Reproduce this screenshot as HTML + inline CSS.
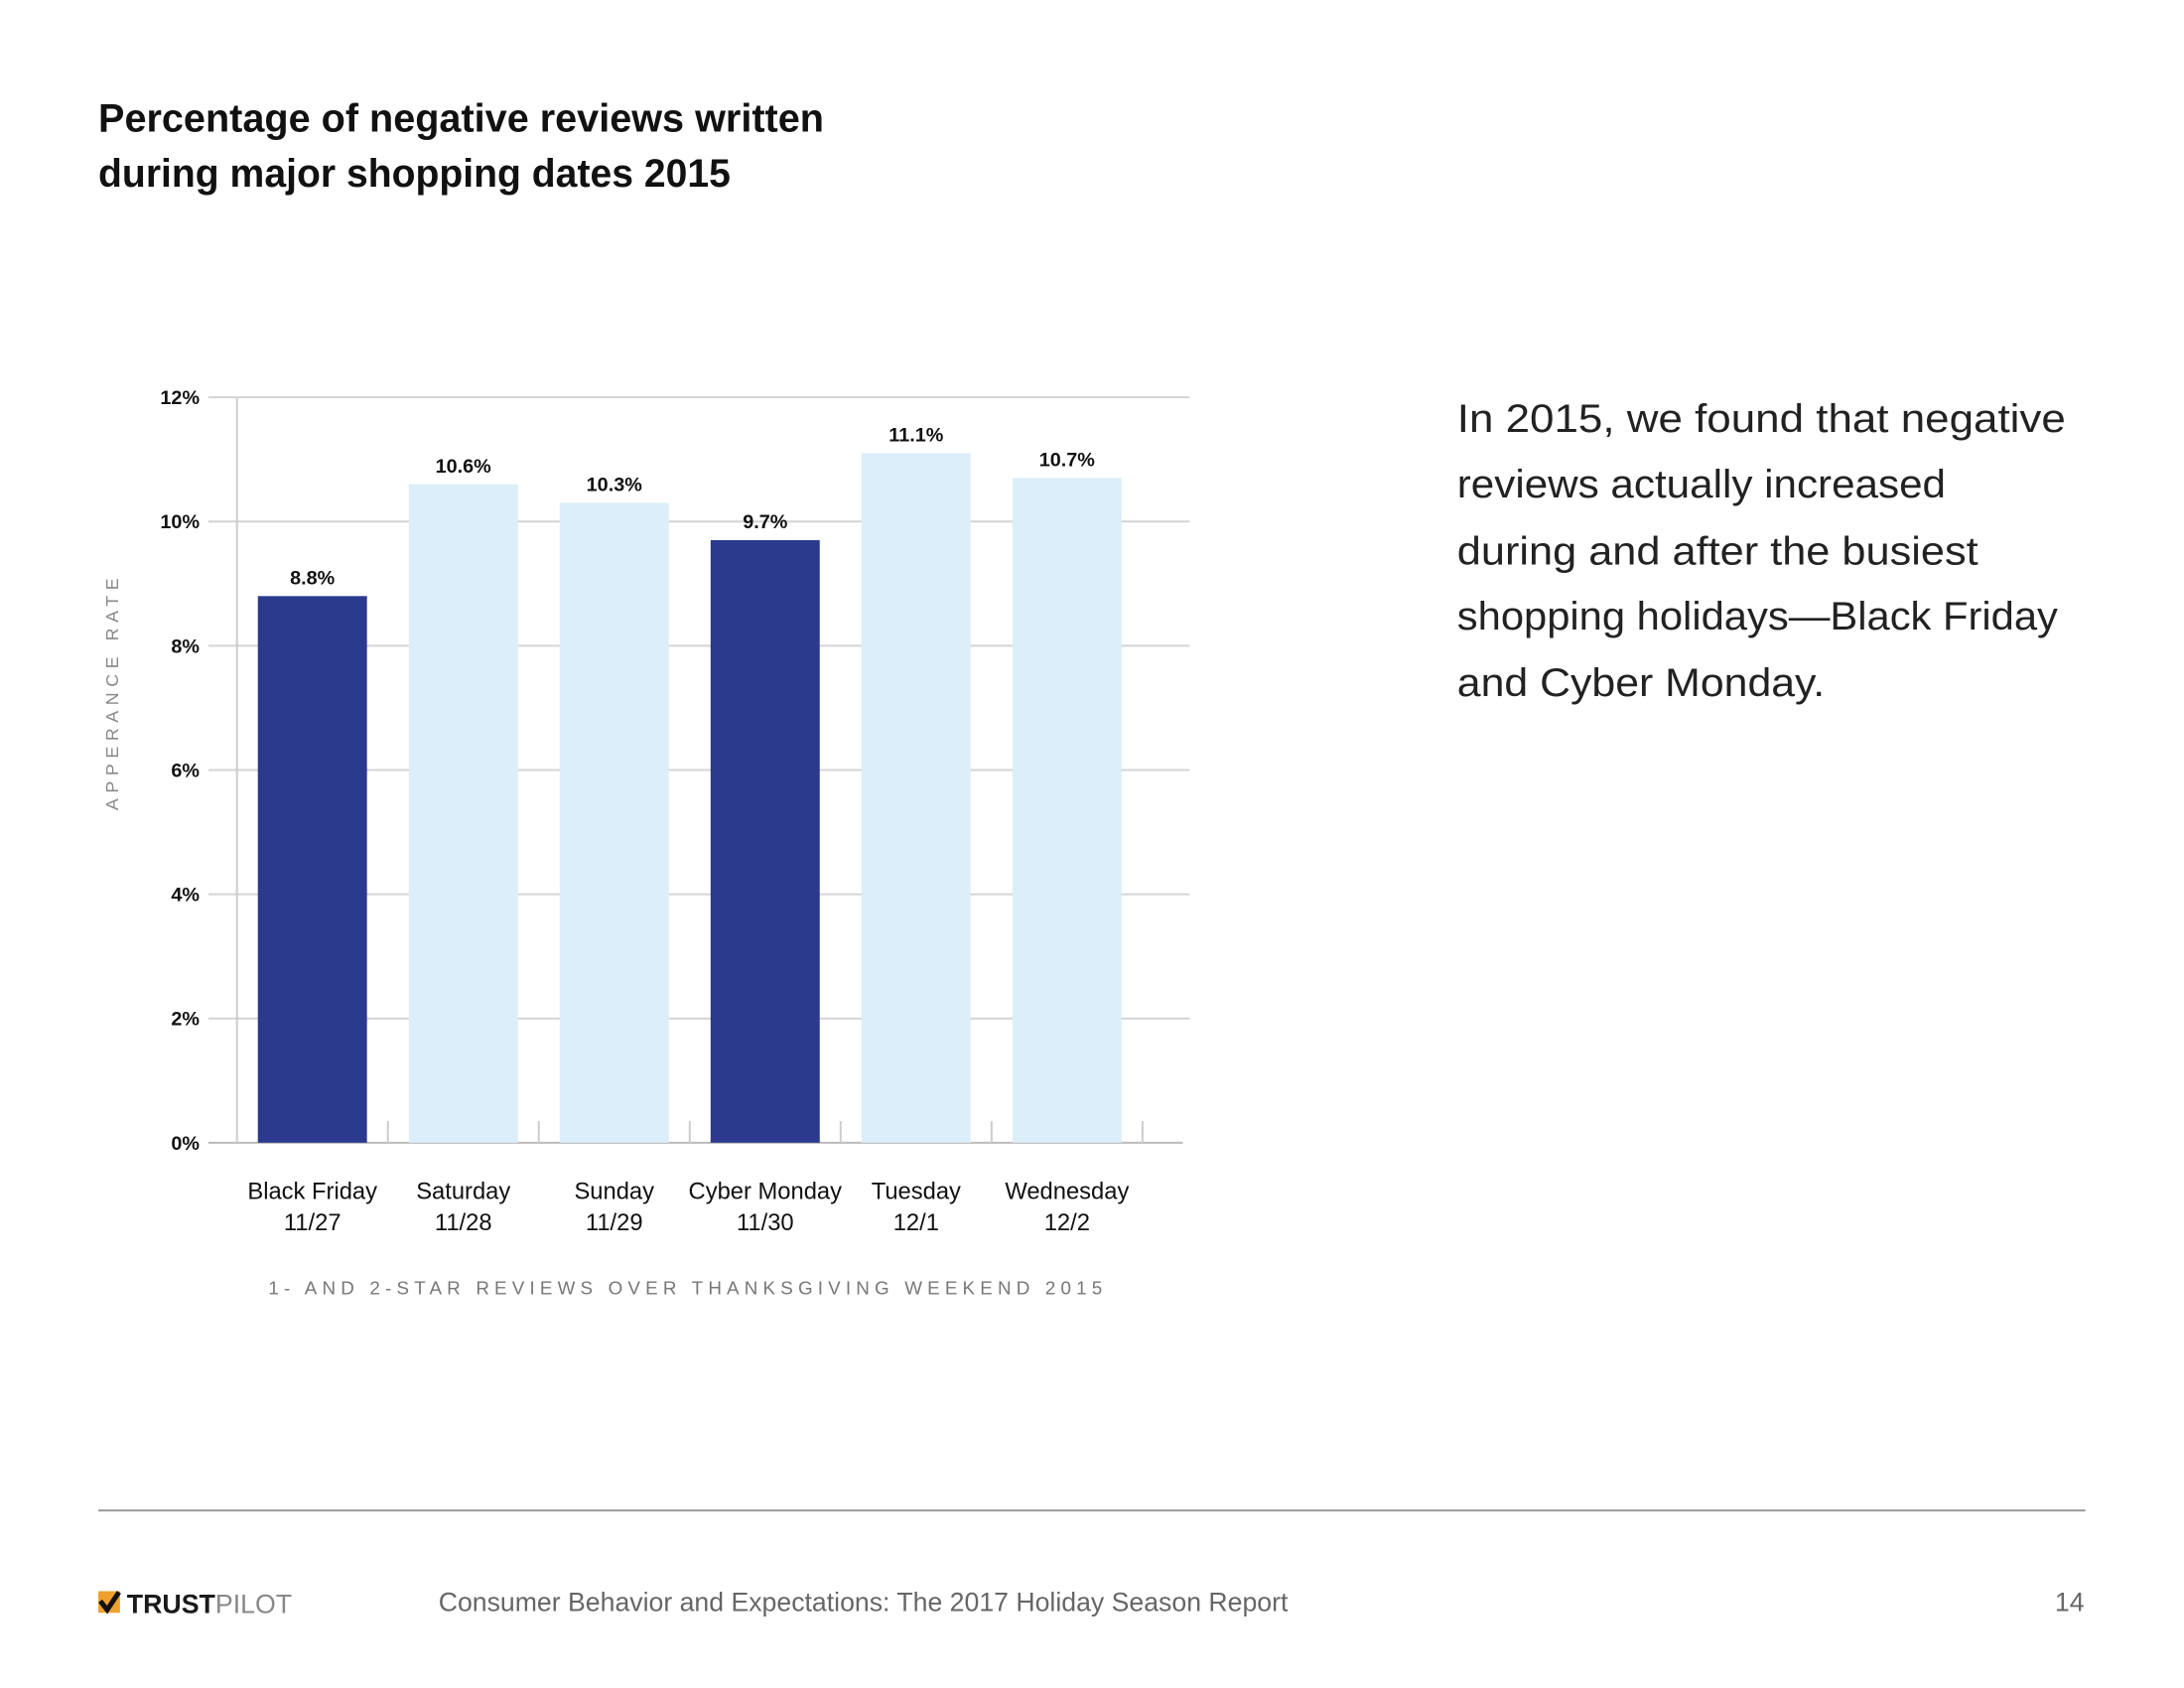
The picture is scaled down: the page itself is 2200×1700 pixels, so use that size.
<!DOCTYPE html>
<html><head><meta charset="utf-8"><style>
html,body{margin:0;padding:0;background:#fff}
svg{display:block;font-family:"Liberation Sans",sans-serif}
</style></head><body>
<svg id="page" width="2200" height="1700" viewBox="0 0 2200 1700">
<g transform="scale(0.9904)">
<g>
<text x="100" y="134" font-size="40" font-weight="bold" fill="#111" textLength="738" lengthAdjust="spacingAndGlyphs">Percentage of negative reviews written</text>
<text x="100" y="190" font-size="40" font-weight="bold" fill="#111" textLength="643" lengthAdjust="spacingAndGlyphs">during major shopping dates 2015</text>
</g>
<g id="chart"></g>
<g font-size="40" fill="#222">
<text x="1482" y="439" textLength="619" lengthAdjust="spacingAndGlyphs">In 2015, we found that negative</text>
<text x="1482" y="506" textLength="497" lengthAdjust="spacingAndGlyphs">reviews actually increased</text>
<text x="1482" y="574" textLength="530" lengthAdjust="spacingAndGlyphs">during and after the busiest</text>
<text x="1482" y="640" textLength="611" lengthAdjust="spacingAndGlyphs">shopping holidays—Black Friday</text>
<text x="1482" y="708" textLength="374" lengthAdjust="spacingAndGlyphs">and Cyber Monday.</text>
</g>
<line x1="100" y1="1536" x2="2121" y2="1536" stroke="#999" stroke-width="2"/>
<g>
<rect x="100" y="1618" width="22" height="22" fill="#f0a030"/>
<path d="M102 1628 l7 9 l12 -18" stroke="#111" stroke-width="5" fill="none"/>
<text x="129" y="1640" font-size="27" font-weight="bold" fill="#1a1a1a">TRUST<tspan font-weight="normal" fill="#888">PILOT</tspan></text>
</g>
<text x="446" y="1638" font-size="27" fill="#666" textLength="864" lengthAdjust="spacingAndGlyphs">Consumer Behavior and Expectations: The 2017 Holiday Season Report</text>
<text x="2120" y="1638" font-size="27" fill="#666" text-anchor="end">14</text>
</g>
</svg>
<script>
const categories = ["Black Friday", "Saturday", "Sunday", "Cyber Monday", "Tuesday", "Wednesday"];
const dates = ["11/27", "11/28", "11/29", "11/30", "12/1", "12/2"];
const values = [8.8, 10.6, 10.3, 9.7, 11.1, 10.7];
const highlight = [true, false, false, true, false, false];
const yTicks = [0, 2, 4, 6, 8, 10, 12];

const NS = "http://www.w3.org/2000/svg";
const g = document.getElementById('chart');
const X0 = 241, X1 = 1162, Y0 = 1162, Y12 = 404;
const step = (X1 - X0) / categories.length;
const barW = 111;
function y(v){ return Y0 - (v / 12) * (Y0 - Y12); }
function xc(i){ return X0 + step * (i + 0.5); }
function el(tag, attrs, text){
  const e = document.createElementNS(NS, tag);
  for (const k in attrs) e.setAttribute(k, attrs[k]);
  if (text !== undefined) e.textContent = text;
  g.appendChild(e);
  return e;
}
yTicks.forEach(t => {
  const ln = el('line', {x1: 212, x2: t === 0 ? 1203 : 1210, y1: y(t), y2: y(t), stroke: t === 0 ? '#bbb' : '#d4d4d4', 'stroke-width': 2});
  
  
  const tx = el('text', {x: 203, y: y(t) + 7, 'font-size': 20, 'font-weight': 'bold', fill: '#111', 'text-anchor': 'end'}, t + '%');
  
  
});
const ax = el('line', {x1: X0, x2: X0, y1: Y12, y2: Y0, stroke: '#ccc', 'stroke-width': 2});


for (let i = 1; i <= categories.length; i++) {
  const tk = el('line', {x1: X0 + step * i, x2: X0 + step * i, y1: Y0 - 22, y2: Y0, stroke: '#ccc', 'stroke-width': 2});
  
  
}
values.forEach((v, i) => {
  const r = el('rect', {x: xc(i) - barW / 2, y: y(v), width: barW, height: Y0 - y(v), fill: highlight[i] ? '#2b3a8c' : '#dbeef9'});
  
  
  const lb = el('text', {x: xc(i), y: y(v) - 12, 'font-size': 20, 'font-weight': 'bold', fill: '#111', 'text-anchor': 'middle'}, v.toFixed(1) + '%');
  
  
  const c1 = el('text', {x: xc(i), y: 1219, 'font-size': 24, fill: '#111', 'text-anchor': 'middle'}, categories[i]);
  
  
  const c2 = el('text', {x: xc(i), y: 1251, 'font-size': 24, fill: '#111', 'text-anchor': 'middle'}, dates[i]);
  
  
});
const yt = el('text', {x: 0, y: 0, 'font-size': 18, fill: '#888', 'text-anchor': 'middle', transform: 'translate(120,706) rotate(-90)', textLength: 236, lengthAdjust: 'spacing'}, 'APPERANCE RATE');


const xt = el('text', {x: 273, y: 1316, 'font-size': 19, fill: '#777', textLength: 848, lengthAdjust: 'spacing'}, '1- AND 2-STAR REVIEWS OVER THANKSGIVING WEEKEND 2015');


</script>
</body></html>
